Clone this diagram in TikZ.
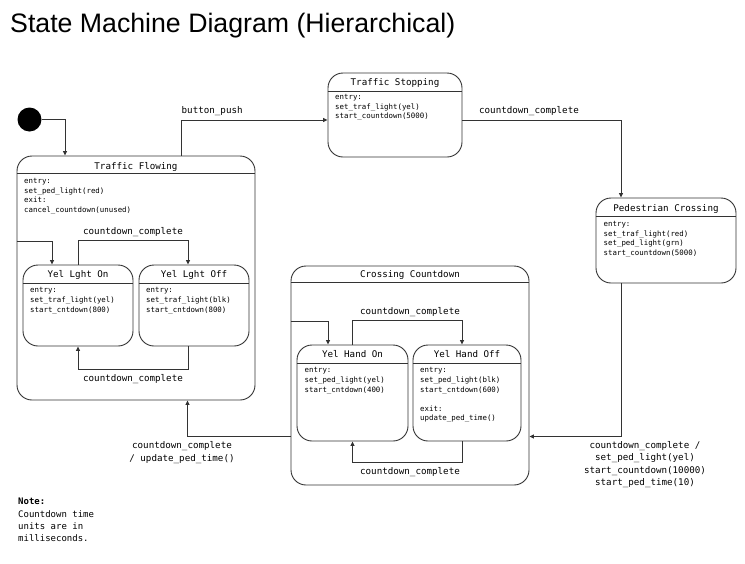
\documentclass[tikz,border=0pt]{standalone}
\usepackage{fontspec}
\setmainfont{Liberation Sans}
\newfontfamily\monof{DejaVu Sans Mono}
\usetikzlibrary{arrows.meta,calc}
\begin{document}
\begin{tikzpicture}[x=1pt,y=-1pt,
  line/.style={draw=black!80, line width=0.9pt},
  arr/.style={line, -{Triangle[length=4.5pt,width=4pt]}},
  state/.style={line, rounded corners=15pt, inner sep=0pt, rectangle},
  ttl/.style={font=\monof\fontsize{9.2}{11}\selectfont, inner sep=0pt},
  body/.style={font=\monof\fontsize{7.4}{9.6}\selectfont, inner sep=0pt, anchor=north west, align=left},
  lbl/.style={font=\monof\fontsize{9.2}{12.4}\selectfont, inner sep=0pt, align=center}]
\fill[white] (0,0) rectangle (745,563);
\useasboundingbox (0,0) rectangle (745,563);

\node[anchor=base west, inner sep=0pt, font=\fontsize{26.7}{30}\selectfont] (title) at (10,32) {State Machine Diagram (Hierarchical)};

% initial state
\node[circle, fill=black, minimum size=24pt, inner sep=0pt] (init) at (29.5,119.5) {};

% Traffic Flowing
\node[state, minimum width=238pt, minimum height=244pt] (tf) at (136,278) {};
\draw[line] ($(tf.north west)+(0,18)$) -- ($(tf.north east)+(0,18)$);
\node[ttl] (tft) at (136,166.5) {Traffic Flowing};
\node[body] (tfb) at (24,176.5) {\strut entry:\\set\_ped\_light(red)\\exit:\\cancel\_countdown(unused)};

% Yel Lght On / Off
\node[state, minimum width=110pt, minimum height=81pt] (ylon) at (78,305.5) {};
\draw[line] ($(ylon.north west)+(0,19)$) -- ($(ylon.north east)+(0,19)$);
\node[ttl] (ylont) at (78,275) {Yel Lght On};
\node[body] (ylonb) at (30,286) {\strut entry:\\set\_traf\_light(yel)\\start\_cntdown(800)};

\node[state, minimum width=110pt, minimum height=81pt] (yloff) at (194,305.5) {};
\draw[line] ($(yloff.north west)+(0,19)$) -- ($(yloff.north east)+(0,19)$);
\node[ttl] (yloft) at (194,275) {Yel Lght Off};
\node[body] (yloffb) at (146,286) {\strut entry:\\set\_traf\_light(blk)\\start\_cntdown(800)};

% Traffic Stopping
\node[state, minimum width=134pt, minimum height=84pt] (ts) at (395,115) {};
\draw[line] ($(ts.north west)+(0,18.5)$) -- ($(ts.north east)+(0,18.5)$);
\node[ttl] (tst) at (395,83) {Traffic Stopping};
\node[body] (tsb) at (335,92.5) {\strut entry:\\set\_traf\_light(yel)\\start\_countdown(5000)};

% Pedestrian Crossing
\node[state, minimum width=140pt, minimum height=85pt] (pc) at (666,240.5) {};
\draw[line] ($(pc.north west)+(0,19)$) -- ($(pc.north east)+(0,19)$);
\node[ttl] (pct) at (666,208.5) {Pedestrian Crossing};
\node[body] (pcb) at (603.5,219.5) {\strut entry:\\set\_traf\_light(red)\\set\_ped\_light(grn)\\start\_countdown(5000)};

% Crossing Countdown
\node[state, minimum width=238pt, minimum height=219pt] (cc) at (410,375.5) {};
\draw[line] ($(cc.north west)+(0,17)$) -- ($(cc.north east)+(0,17)$);
\node[ttl] (cct) at (410,275) {Crossing Countdown};

\node[state, minimum width=111pt, minimum height=96pt] (yhon) at (352.5,393) {};
\draw[line] ($(yhon.north west)+(0,19)$) -- ($(yhon.north east)+(0,19)$);
\node[ttl] (yhont) at (352.5,354.5) {Yel Hand On};
\node[body] (yhonb) at (304.5,366) {\strut entry:\\set\_ped\_light(yel)\\start\_cntdown(400)};

\node[state, minimum width=108pt, minimum height=96pt] (yhoff) at (467,393) {};
\draw[line] ($(yhoff.north west)+(0,19)$) -- ($(yhoff.north east)+(0,19)$);
\node[ttl] (yhofft) at (467,354.5) {Yel Hand Off};
\node[body] (yhoffb) at (420,366) {\strut entry:\\set\_ped\_light(blk)\\start\_cntdown(600)\\[9.6pt]exit:\\update\_ped\_time()};

% transitions
\draw[arr] (init.east) -| ([xshift=-71pt]tf.north);
\draw[arr] ([xshift=45.5pt]tf.north) |- ([yshift=-5pt]ts.west);
\node[lbl, anchor=west] (l1) at (181.5,111.5) {button\_push};
\draw[arr] ([yshift=-5pt]ts.east) -| ([xshift=-45pt]pc.north);
\node[lbl] (l2) at (529,111.5) {countdown\_complete};
\draw[arr] ([xshift=-45pt]pc.south) |- ([yshift=-61pt]cc.east);
\node[lbl] (l3) at (645,464.5) {countdown\_complete /\\set\_ped\_light(yel)\\start\_countdown(10000)\\start\_ped\_time(10)};
\draw[arr] ([yshift=-61pt]cc.west) -| ([xshift=51.5pt]tf.south);
\node[lbl] (l4) at (182,452.5) {countdown\_complete\\/ update\_ped\_time()};

\draw[arr] ([yshift=37pt]tf.west) -| ([xshift=-26pt]ylon.north);
\draw[arr] (ylon.north) -- ++(0,-24) -| ([xshift=-6pt]yloff.north);
\node[lbl] (l5) at (133,232.5) {countdown\_complete};
\draw[arr] ([xshift=-6pt]yloff.south) -- ++(0,23) -| (ylon.south);
\node[lbl] (l6) at (133,379.5) {countdown\_complete};

\draw[arr] ([yshift=54.5pt]cc.west) -| ([xshift=-24.5pt]yhon.north);
\draw[arr] (yhon.north) -- ++(0,-24) -| ([xshift=-5pt]yhoff.north);
\node[lbl] (l7) at (410,312) {countdown\_complete};
\draw[arr] ([xshift=-5pt]yhoff.south) -- ++(0,21) -| (yhon.south);
\node[lbl] (l8) at (410,472) {countdown\_complete};

% note
\node[anchor=north west, inner sep=0pt, align=left, font=\monof\fontsize{9}{12.3}\selectfont] (note) at (18,496) {\strut\textbf{Note:}\\Countdown time\\units are in\\milliseconds.};
\end{tikzpicture}
\end{document}
